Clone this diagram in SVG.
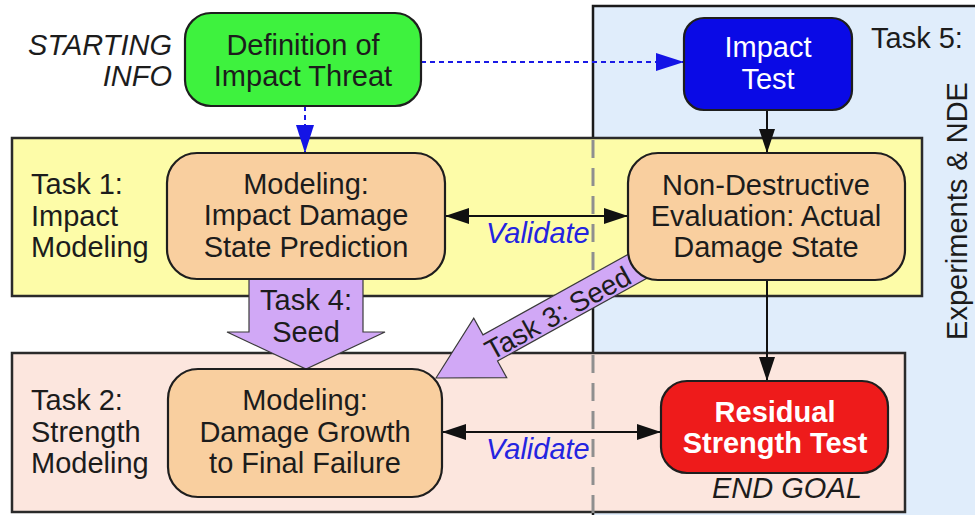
<svg xmlns="http://www.w3.org/2000/svg" width="975" height="515" viewBox="0 0 975 515">
  <defs>
    <style>
      .t { font-family: "Liberation Sans", Arial, sans-serif; font-size: 29px; fill: #1c1c1c; }
      .c { text-anchor: middle; }
      .e { text-anchor: end; }
      .i { font-style: italic; }
      .w { fill: #ffffff; font-weight: bold; }
      .wn { fill: #ffffff; }
      .v { fill: #2424e0; font-style: italic; }
      .box { stroke: #1e1e1e; stroke-width: 2.2; }
      .band { stroke: #2a2a2a; stroke-width: 2.5; }
      .conn { stroke: #111; stroke-width: 2; fill: none; }
      .dot { stroke: #1a1ae6; stroke-width: 2; fill: none; stroke-dasharray: 5 4; }
      .seed { fill: #d1a8f6; stroke: #3a3a3a; stroke-width: 1.2; }
    </style>
    <marker id="ah" viewBox="0 0 24 16" refX="24" refY="8" markerWidth="24" markerHeight="16" markerUnits="userSpaceOnUse" orient="auto-start-reverse">
      <path d="M0,0 L24,8 L0,16 Z" fill="#111"/>
    </marker>
    <marker id="bh" viewBox="0 0 28 18" refX="28" refY="9" markerWidth="28" markerHeight="18" markerUnits="userSpaceOnUse" orient="auto">
      <path d="M0,0 L28,9 L0,18 Z" fill="#1414e6"/>
    </marker>
  </defs>

  <g id="backgrounds">
    <rect id="task5-panel" x="593" y="6" width="390" height="520" fill="#e0edfb" stroke="#1a1a1a" stroke-width="2.5"/>
    <rect id="task1-band" class="band" x="12" y="138" width="910" height="158" fill="#fdfca8"/>
    <rect id="task2-band" class="band" x="12" y="353" width="893" height="159" fill="#fce6de"/>
    <line x1="593" y1="140" x2="593" y2="295" stroke="#8f8f8f" stroke-width="3" stroke-dasharray="18 10"/>
    <line x1="593" y1="355" x2="593" y2="515" stroke="#8f8f8f" stroke-width="3" stroke-dasharray="18 10"/>
  </g>

  <g id="labels">
    <text class="t i e" x="172" y="55">STARTING</text>
    <text class="t i e" x="172" y="86">INFO</text>
    <text class="t" x="31" y="194">Task 1:</text>
    <text class="t" x="31" y="226">Impact</text>
    <text class="t" x="31" y="257">Modeling</text>
    <text class="t" x="31" y="410">Task 2:</text>
    <text class="t" x="31" y="442">Strength</text>
    <text class="t" x="31" y="473">Modeling</text>
    <text class="t" x="871" y="48">Task 5:</text>
    <text class="t c" transform="translate(967,211) rotate(-90)">Experiments &amp; NDE</text>
    <text class="t i" x="712" y="498">END GOAL</text>
  </g>

  <g id="connectors">
    <path id="task4-seed" class="seed" d="M249,268 L363,268 L363,332 L385,332 L306,369 L227,332 L249,332 Z"/>
    <text class="t c" x="306" y="310">Task 4:</text>
    <text class="t c" x="306" y="342">Seed</text>
    <g id="task3-seed" transform="translate(436,378) rotate(-29)">
      <path class="seed" d="M0,0 L62,-34 L62,-15 L240,-15 L240,15 L62,15 L62,34 Z"/>
      <text class="t c" x="138" y="12" style="font-size:28px">Task 3: Seed</text>
    </g>
    <line class="dot" x1="305" y1="106" x2="305" y2="153" marker-end="url(#bh)"/>
    <line class="dot" x1="421" y1="62" x2="684" y2="62" marker-end="url(#bh)"/>
    <line class="conn" x1="767" y1="110" x2="767" y2="153" marker-end="url(#ah)"/>
    <line class="conn" x1="767" y1="280" x2="767" y2="381" marker-end="url(#ah)"/>
    <line class="conn" x1="445" y1="216" x2="628" y2="216" marker-start="url(#ah)" marker-end="url(#ah)"/>
    <line class="conn" x1="442" y1="432" x2="661" y2="432" marker-start="url(#ah)" marker-end="url(#ah)"/>
    <text class="t v" x="486" y="243">Validate</text>
    <text class="t v" x="486" y="459">Validate</text>
  </g>

  <g id="node-threat">
    <rect class="box" x="185" y="13" width="236" height="93" rx="26" fill="#3ef23e"/>
    <text class="t c" x="303" y="55">Definition of</text>
    <text class="t c" x="303" y="86">Impact Threat</text>
  </g>

  <g id="node-impact-test">
    <rect class="box" x="684" y="18" width="168" height="92" rx="20" fill="#0a0ae6"/>
    <text class="t c wn" x="768" y="57">Impact</text>
    <text class="t c wn" x="768" y="89">Test</text>
  </g>

  <g id="node-impact-model">
    <rect class="box" x="167" y="153" width="278" height="126" rx="30" fill="#f9cf9f"/>
    <text class="t c" x="306" y="194">Modeling:</text>
    <text class="t c" x="306" y="225">Impact Damage</text>
    <text class="t c" x="306" y="257">State Prediction</text>
  </g>

  <g id="node-nde">
    <rect class="box" x="628" y="153" width="277" height="127" rx="30" fill="#f9cf9f"/>
    <text class="t c" x="766" y="195">Non-Destructive</text>
    <text class="t c" x="766" y="226">Evaluation: Actual</text>
    <text class="t c" x="766" y="257">Damage State</text>
  </g>

  <g id="node-strength-model">
    <rect class="box" x="168" y="369" width="274" height="128" rx="30" fill="#f9cf9f"/>
    <text class="t c" x="305" y="410">Modeling:</text>
    <text class="t c" x="305" y="442">Damage Growth</text>
    <text class="t c" x="305" y="473">to Final Failure</text>
  </g>

  <g id="node-residual">
    <rect class="box" x="661" y="381" width="227" height="92" rx="26" fill="#ee1b1b"/>
    <text class="t c w" x="775" y="422">Residual</text>
    <text class="t c w" x="775" y="453">Strength Test</text>
  </g>
</svg>
